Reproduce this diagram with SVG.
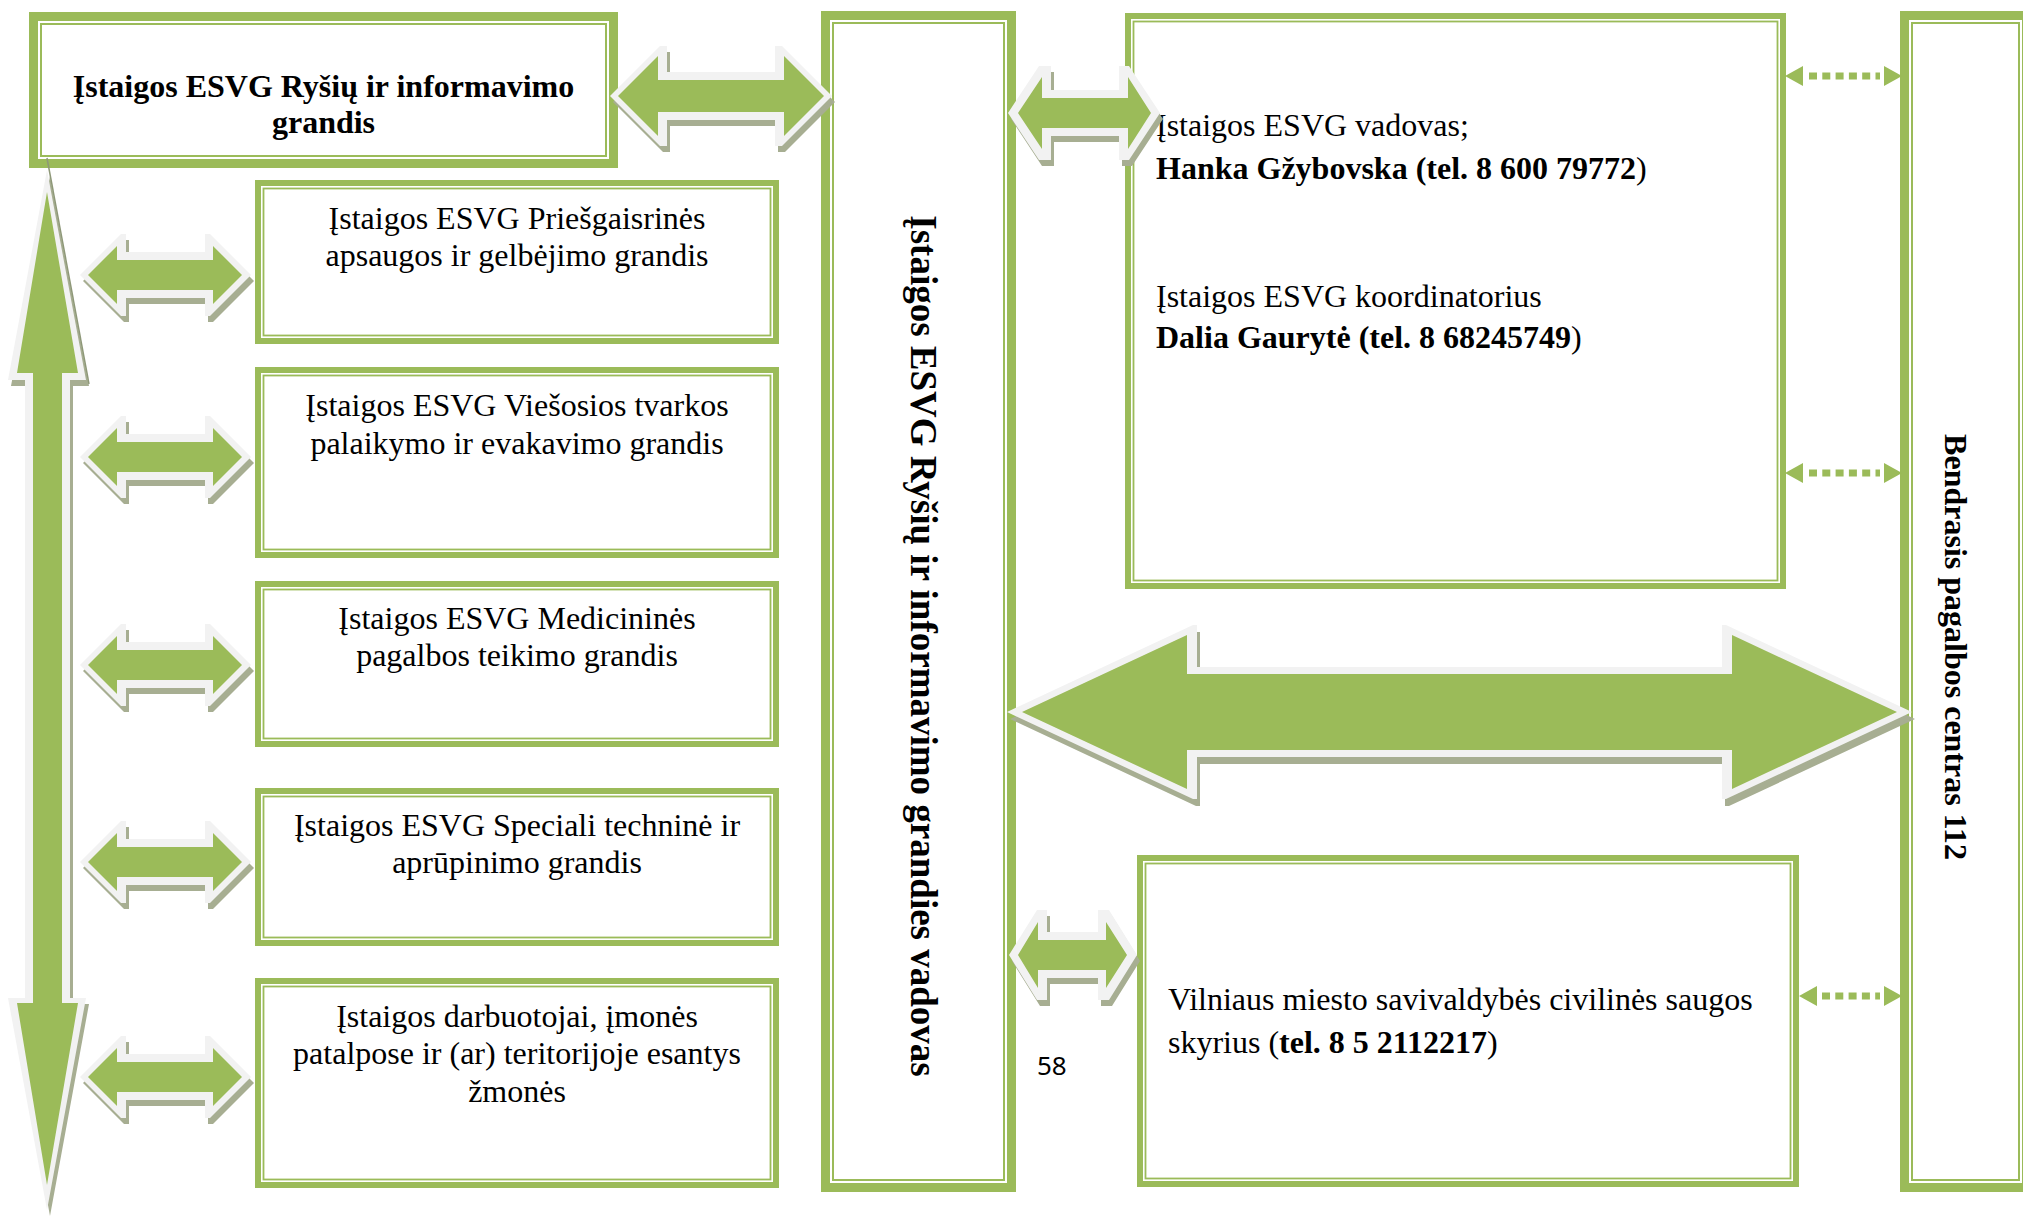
<svg xmlns="http://www.w3.org/2000/svg" xmlns:xlink="http://www.w3.org/1999/xlink" width="2023" height="1230" viewBox="0 0 2023 1230">
<style>
.bgh{fill:#fff;stroke:#9bbb59;stroke-width:9}
.bih{fill:none;stroke:#9bbb59;stroke-width:2}
.bgl{fill:#fff;stroke:#9bbb59;stroke-width:6}
.bil{fill:none;stroke:#9bbb59;stroke-width:1.8}
.sh{fill:#a7ae92}
.ol{fill:#f2f2f2}
.ar{fill:#9bbb59}
.dh{fill:#9bbb59}
.dl{stroke:#9bbb59;stroke-width:7;stroke-dasharray:8 5.3;fill:none}
text{font-family:"Liberation Serif","Times New Roman",serif;font-size:32px;fill:#000}
.b{font-weight:bold}
.c{text-anchor:middle}
.pg{font-family:"Noto Sans","Open Sans",sans-serif;font-size:26px}
</style>
<defs>
<g id="smallArrow">
<polygon class="sh" transform="translate(3,6)" points="80,0 121,-41 126,-41 126,-23 205,-23 205,-41 210,-41 251,0 210,41 205,41 205,23 126,23 126,41 121,41"/>
<polygon class="ol" points="80,0 121,-41 126,-41 126,-23 205,-23 205,-41 210,-41 251,0 210,41 205,41 205,23 126,23 126,41 121,41"/>
<polygon class="ar" points="88,0 117,-29 117,-15 213,-15 213,-29 242,0 213,29 213,15 117,15 117,29"/>
</g>
</defs>
<rect width="2023" height="1230" fill="#fff"/>

<g id="node-top-left">
<rect class="bgh" x="33.5" y="16.5" width="580" height="147"/>
<rect class="bih" x="41" y="24" width="565" height="132"/>
<text class="b c" x="323.5" y="97">Įstaigos ESVG Ryšių ir informavimo</text>
<text class="b c" x="323.5" y="133">grandis</text>
</g>

<g id="node-priesgaisrines">
<rect class="bgl" x="258" y="183" width="518" height="158"/>
<rect class="bil" x="263.5" y="188.5" width="507" height="147"/>
<text class="c" x="517" y="229">Įstaigos ESVG Priešgaisrinės</text>
<text class="c" x="517" y="266">apsaugos ir gelbėjimo grandis</text>
</g>

<g id="node-viesosios">
<rect class="bgl" x="258" y="370" width="518" height="185"/>
<rect class="bil" x="263.5" y="375.5" width="507" height="174"/>
<text class="c" x="517" y="416">Įstaigos ESVG Viešosios tvarkos</text>
<text class="c" x="517" y="454">palaikymo ir evakavimo grandis</text>
</g>

<g id="node-medicinines">
<rect class="bgl" x="258" y="584" width="518" height="160"/>
<rect class="bil" x="263.5" y="589.5" width="507" height="149"/>
<text class="c" x="517" y="629">Įstaigos ESVG Medicininės</text>
<text class="c" x="517" y="666">pagalbos teikimo grandis</text>
</g>

<g id="node-speciali">
<rect class="bgl" x="258" y="791" width="518" height="152"/>
<rect class="bil" x="263.5" y="796.5" width="507" height="141"/>
<text class="c" x="517" y="836">Įstaigos ESVG Speciali techninė ir</text>
<text class="c" x="517" y="873">aprūpinimo grandis</text>
</g>

<g id="node-darbuotojai">
<rect class="bgl" x="258" y="981" width="518" height="204"/>
<rect class="bil" x="263.5" y="986.5" width="507" height="193"/>
<text class="c" x="517" y="1027">Įstaigos darbuotojai, įmonės</text>
<text class="c" x="517" y="1064">patalpose ir (ar) teritorijoje esantys</text>
<text class="c" x="517" y="1102">žmonės</text>
</g>

<g id="node-vadovas">
<rect class="bgh" x="825.5" y="15.5" width="186" height="1172"/>
<rect class="bih" x="833" y="23" width="171" height="1157"/>
<text class="b c" style="font-size:37px" transform="translate(911,646) rotate(90)">Įstaigos ESVG Ryšių ir informavimo grandies vadovas</text>
</g>

<g id="node-esvg">
<rect class="bgl" x="1128" y="16" width="655" height="570"/>
<rect class="bil" x="1133.5" y="21.5" width="644" height="559"/>
<text x="1156" y="136">Įstaigos ESVG vadovas;</text>
<text x="1156" y="179"><tspan class="b">Hanka Gžybovska (tel. 8 600 79772</tspan>)</text>
<text x="1156" y="307">Įstaigos ESVG koordinatorius</text>
<text x="1156" y="348"><tspan class="b">Dalia Gaurytė (tel. 8 68245749</tspan>)</text>
</g>

<g id="node-vilniaus">
<rect class="bgl" x="1140" y="858" width="656" height="326"/>
<rect class="bil" x="1145.5" y="863.5" width="645" height="315"/>
<text x="1168" y="1010">Vilniaus miesto savivaldybės civilinės saugos</text>
<text x="1168" y="1053">skyrius (<tspan class="b">tel. 8 5 2112217</tspan>)</text>
</g>

<g id="node-112">
<rect class="bgh" x="1904.5" y="15.5" width="122" height="1172"/>
<rect class="bih" x="1912" y="23" width="107" height="1157"/>
<text class="b c" transform="translate(1945,647) rotate(90)">Bendrasis pagalbos centras 112</text>
</g>

<text class="pg" x="1037" y="1075">58</text>

<g id="connectors">
<g id="arrow-vertical">
<polygon class="sh" transform="translate(3,6)" points="47,170 86,380 70,380 70,998 86,998 47,1210 8,998 25,998 25,380 8,380"/>
<line x1="47" y1="158" x2="89" y2="384" stroke="#8e9878" stroke-width="1.5"/>
<polygon class="ol" points="47,170 86,380 70,380 70,998 86,998 47,1210 8,998 25,998 25,380 8,380"/>
<polygon class="ar" points="47,192 78,373 62,373 62,1003 78,1003 47,1185 17,1003 33,1003 33,373 17,373"/>
</g>
<use xlink:href="#smallArrow" transform="translate(0,275)"/>
<use xlink:href="#smallArrow" transform="translate(0,457)"/>
<use xlink:href="#smallArrow" transform="translate(0,665)"/>
<use xlink:href="#smallArrow" transform="translate(0,862)"/>
<use xlink:href="#smallArrow" transform="translate(0,1077)"/>

<g id="arrow-top">
<polygon class="sh" transform="translate(3,6)" points="610,96 660,46 667,46 667,72 775,72 775,46 782,46 832,96 782,146 775,146 775,120 667,120 667,146 660,146"/>
<polygon class="ol" points="610,96 660,46 667,46 667,72 775,72 775,46 782,46 832,96 782,146 775,146 775,120 667,120 667,146 660,146"/>
<polygon class="ar" points="618,96 658,56 658,80 784,80 784,56 824,96 784,136 784,112 658,112 658,136"/>
</g>

<g id="arrow-esvg">
<polygon class="sh" transform="translate(3,6)" points="1008,113 1039,66 1051,66 1051,90 1119,90 1119,66 1129,66 1160,113 1129,160 1119,160 1119,136 1051,136 1051,160 1039,160"/>
<polygon class="ol" points="1008,113 1039,66 1051,66 1051,90 1119,90 1119,66 1129,66 1160,113 1129,160 1119,160 1119,136 1051,136 1051,160 1039,160"/>
<polygon class="ar" points="1018,113 1042,77 1042,98 1128,98 1128,77 1151,113 1128,149 1128,128 1042,128 1042,149"/>
</g>

<g id="arrow-vilniaus">
<polygon class="sh" transform="translate(3,6)" points="1009,955 1037,910 1047,910 1047,932 1098,932 1098,910 1109,910 1137,955 1109,1000 1098,1000 1098,978 1047,978 1047,1000 1037,1000"/>
<polygon class="ol" points="1009,955 1037,910 1047,910 1047,932 1098,932 1098,910 1109,910 1137,955 1109,1000 1098,1000 1098,978 1047,978 1047,1000 1037,1000"/>
<polygon class="ar" points="1018,955 1038,922 1038,940 1106,940 1106,922 1127,955 1106,988 1106,970 1038,970 1038,988"/>
</g>

<g id="arrow-big">
<polygon class="sh" transform="translate(3,7)" points="1007,712 1193,625 1197,625 1197,667 1722,667 1722,625 1726,625 1912,712 1726,799 1722,799 1722,757 1197,757 1197,799 1193,799"/>
<polygon class="ol" points="1007,712 1193,625 1197,625 1197,667 1722,667 1722,625 1726,625 1912,712 1726,799 1722,799 1722,757 1197,757 1197,799 1193,799"/>
<polygon class="ar" points="1022,712 1187,635 1187,674 1732,674 1732,635 1897,712 1732,789 1732,750 1187,750 1187,789"/>
</g>

<g id="dotted-1">
<polygon class="dh" points="1785,76 1803,66 1803,86"/>
<line class="dl" x1="1809" y1="76" x2="1880" y2="76"/>
<polygon class="dh" points="1902,76 1884,66 1884,86"/>
</g>
<g id="dotted-2">
<polygon class="dh" points="1785,473 1803,463 1803,483"/>
<line class="dl" x1="1809" y1="473" x2="1880" y2="473"/>
<polygon class="dh" points="1902,473 1884,463 1884,483"/>
</g>
<g id="dotted-3">
<polygon class="dh" points="1799,996 1817,986 1817,1006"/>
<line class="dl" x1="1822" y1="996" x2="1880" y2="996"/>
<polygon class="dh" points="1902,996 1884,986 1884,1006"/>
</g>
</g>
</svg>
